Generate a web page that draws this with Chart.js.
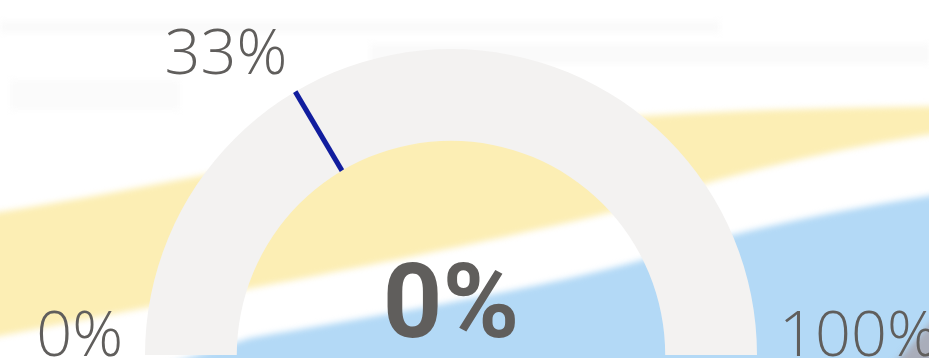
<!DOCTYPE html>
<html>
<head>
<meta charset="utf-8">
<script src="https://cdn.jsdelivr.net/npm/chart.js@4.4.1/dist/chart.umd.min.js"></script>
<style>
  html, body { margin: 0; padding: 0; background: #ffffff; overflow: hidden; }
  #c { display: block; }
</style>
</head>
<body>
<canvas id="c" width="929" height="358"></canvas>
<script>
// ---- data ----
const categories = ['Value', 'Remaining'];
const gaugeMin = 0;
const gaugeMax = 100;
const gaugeValue = 0;
const gaugeTarget = 33;
const minLabel = '0%';
const maxLabel = '100%';
const targetLabel = '33%';
const valueLabel = '0%';

const TEXT = '#605E5C';

const backgroundPlugin = {
  id: 'bgImage',
  beforeDraw(chart) {
    const ctx = chart.ctx;
    const W = chart.width, H = chart.height;
    ctx.save();
    ctx.fillStyle = '#ffffff';
    ctx.fillRect(0, 0, W, H);
    ctx.filter = 'blur(3px)';
    // faint strips at top
    ctx.fillStyle = '#fafafa';
    ctx.fillRect(0, 21, 720, 12);
    ctx.fillRect(370, 44, 560, 20);
    ctx.fillStyle = '#fbfbfb';
    ctx.fillRect(10, 80, 170, 30);
    // yellow band
    ctx.fillStyle = '#FCEEB4';
    ctx.beginPath();
    ctx.moveTo(-20, 215);
    ctx.bezierCurveTo(150, 190, 300, 150, 500, 128);
    ctx.bezierCurveTo(650, 112, 800, 108, 960, 106);
    ctx.lineTo(960, 130);
    ctx.bezierCurveTo(850, 145, 740, 170, 620, 210);
    ctx.bezierCurveTo(500, 240, 300, 280, 160, 305);
    ctx.lineTo(-20, 340);
    ctx.closePath();
    ctx.fill();
    // blue region
    ctx.fillStyle = '#B3D9F6';
    ctx.beginPath();
    ctx.moveTo(120, 380);
    ctx.lineTo(250, 338);
    ctx.bezierCurveTo(400, 312, 560, 285, 660, 255);
    ctx.bezierCurveTo(760, 225, 850, 208, 960, 191);
    ctx.lineTo(960, 380);
    ctx.closePath();
    ctx.fill();
    // grey corner
    ctx.fillStyle = '#A9ADBA';
    ctx.beginPath();
    ctx.moveTo(960, 290);
    ctx.lineTo(960, 380);
    ctx.lineTo(880, 380);
    ctx.closePath();
    ctx.fill();
    ctx.restore();
  }
};

const gaugeTextPlugin = {
  id: 'gaugeText',
  afterDatasetsDraw(chart) {
    const arc = chart.getDatasetMeta(0).data[0];
    if (!arc) return;
    const cx = arc.x, cy = arc.y;
    const ro = arc.outerRadius, ri = arc.innerRadius;
    const ctx = chart.ctx;
    // target marker
    const frac = (gaugeTarget - gaugeMin) / (gaugeMax - gaugeMin);
    const ang = Math.PI + frac * Math.PI;
    const ox = cx + Math.cos(ang) * ro, oy = cy + Math.sin(ang) * ro;
    const ix = cx + Math.cos(ang) * ri, iy = cy + Math.sin(ang) * ri;
    ctx.save();
    ctx.strokeStyle = '#111D9E';
    ctx.lineWidth = 5;
    ctx.beginPath();
    ctx.moveTo(ox, oy);
    ctx.lineTo(ix, iy);
    ctx.stroke();

    ctx.fillStyle = TEXT;
    ctx.textBaseline = 'alphabetic';
    ctx.font = '300 63px "Open Sans"';
    ctx.textAlign = 'right';
    ctx.fillText(minLabel, cx - ro - 22, cy + 1);
    ctx.textAlign = 'left';
    ctx.fillText(maxLabel, cx + ro + 22, cy + 1);
    ctx.textAlign = 'right';
    ctx.fillText(targetLabel, ox - 8, oy - 18);

    ctx.font = 'bold 104px Roboto';
    ctx.textAlign = 'center';
    ctx.fillText(valueLabel, cx, cy - 18);
    ctx.restore();
  }
};

new Chart(document.getElementById('c'), {
  type: 'doughnut',
  data: {
    labels: categories,
    datasets: [{
      data: [gaugeValue - gaugeMin, gaugeMax - gaugeValue],
      backgroundColor: ['#118DFF', '#F3F2F1'],
      borderWidth: 0,
      hoverOffset: 0
    }]
  },
  options: {
    responsive: false,
    animation: false,
    rotation: -90,
    circumference: 180,
    cutout: '70%',
    layout: { padding: { left: 145, right: 172, top: 49, bottom: 3 } },
    plugins: {
      legend: { display: false },
      tooltip: { enabled: false }
    }
  },
  plugins: [backgroundPlugin, gaugeTextPlugin]
});
</script>
</body>
</html>
